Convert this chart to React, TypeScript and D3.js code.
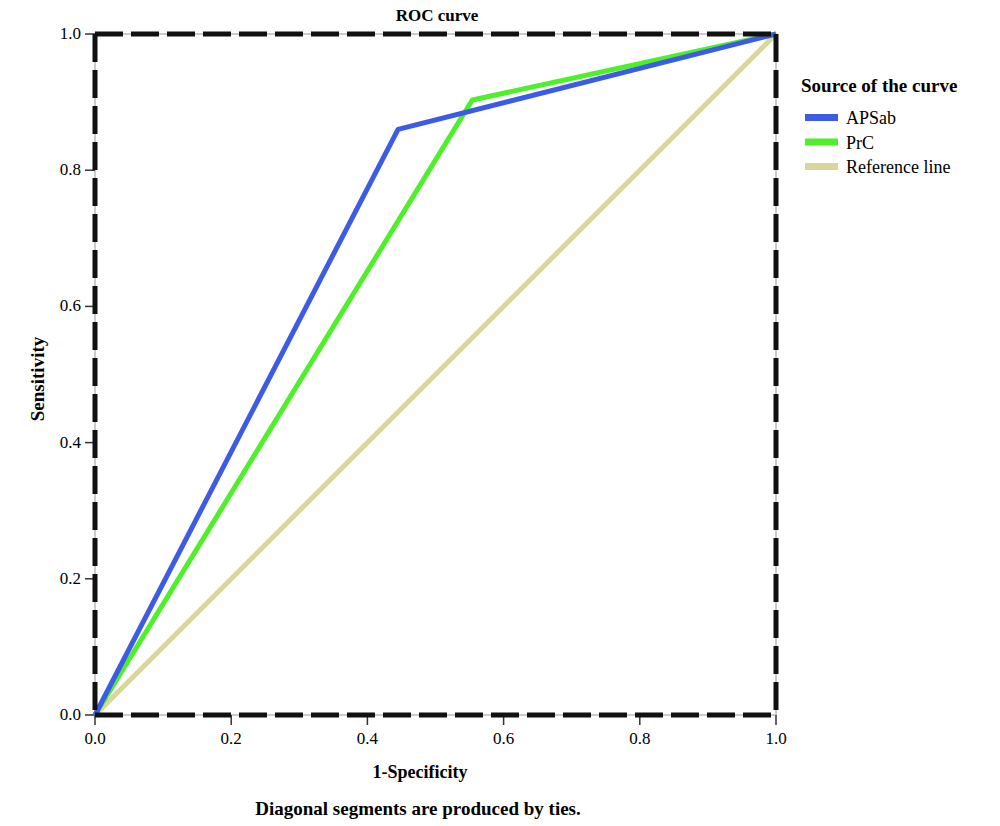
import React from "react";
import * as d3 from "d3";

const seriesNames = ["APSab", "PrC", "Reference line"];
const seriesColors = ["#3d5ce6", "#4ef02a", "#d9d79b"];
const apsabX = [0, 0.445, 1];
const apsabY = [0, 0.86, 1];
const prcX = [0, 0.554, 1];
const prcY = [0, 0.903, 1];
const refX = [0, 1];
const refY = [0, 1];
const ticks = [0, 0.2, 0.4, 0.6, 0.8, 1.0];

export default function App() {
  const W = 1000, H = 826;
  const left = 95, right = 776, top = 34, bottom = 715;
  const x = d3.scaleLinear().domain([0, 1]).range([left, right]);
  const y = d3.scaleLinear().domain([0, 1]).range([bottom, top]);
  const line = d3.line<[number, number]>().x(d => x(d[0])).y(d => y(d[1]));
  const series = [
    { xs: apsabX, ys: apsabY },
    { xs: prcX, ys: prcY },
    { xs: refX, ys: refY },
  ];
  const font = "'Liberation Serif', 'DejaVu Serif', serif";
  const dash = "28 8";
  return (
    <svg width={W} height={H} style={{ position: "absolute", left: 0, top: 0, background: "#fff" }} fontFamily={font}>
      <text x={437} y={21} textAnchor="middle" fontWeight="bold" fontSize={17}>ROC curve</text>
      {/* grey underlay frame */}
      <rect x={left} y={top} width={right - left} height={bottom - top} fill="none" stroke="#c8cccc" strokeWidth={2} />
      {/* ticks */}
      {ticks.map(t => (
        <g key={"y" + t}>
          <line x1={left - 10} x2={left} y1={y(t)} y2={y(t)} stroke="#333" strokeWidth={1.5} />
          <text x={left - 14} y={y(t) + 5} textAnchor="end" fontSize={17}>{t.toFixed(1)}</text>
        </g>
      ))}
      {ticks.map(t => (
        <g key={"x" + t}>
          <line x1={x(t)} x2={x(t)} y1={bottom} y2={bottom + 10} stroke="#333" strokeWidth={1.5} />
          <text x={x(t)} y={bottom + 29} textAnchor="middle" fontSize={17}>{t.toFixed(1)}</text>
        </g>
      ))}
      {/* series: reference first so others draw on top */}
      {[2, 1, 0].map(i => (
        <path key={i} d={line(series[i].xs.map((v, k) => [v, series[i].ys[k]]) as [number, number][]) || ""}
          fill="none" stroke={seriesColors[i]} strokeWidth={5} strokeLinejoin="round" />
      ))}
      {/* dashed frame */}
      <line x1={left} x2={right} y1={top} y2={top} stroke="#111" strokeWidth={5} strokeDasharray={dash} />
      <line x1={left} x2={right} y1={bottom} y2={bottom} stroke="#111" strokeWidth={5} strokeDasharray={dash} />
      <line x1={left} x2={left} y1={top} y2={bottom} stroke="#111" strokeWidth={5} strokeDasharray={dash} />
      <line x1={right} x2={right} y1={top} y2={bottom} stroke="#111" strokeWidth={5} strokeDasharray={dash} />
      <text x={420} y={778} textAnchor="middle" fontWeight="bold" fontSize={18}>1-Specificity</text>
      <text x={418} y={815} textAnchor="middle" fontWeight="bold" fontSize={19}>Diagonal segments are produced by ties.</text>
      <text transform={`translate(44,379) rotate(-90)`} textAnchor="middle" fontWeight="bold" fontSize={19}>Sensitivity</text>
      {/* legend */}
      <text x={801} y={92} fontWeight="bold" fontSize={19}>Source of the curve</text>
      {seriesNames.map((n, i) => (
        <g key={n}>
          <rect x={805} y={114 + i * 24.5} width={33} height={7} fill={seriesColors[i]} />
          <text x={846} y={124 + i * 24.5} fontSize={18}>{n}</text>
        </g>
      ))}
    </svg>
  );
}
